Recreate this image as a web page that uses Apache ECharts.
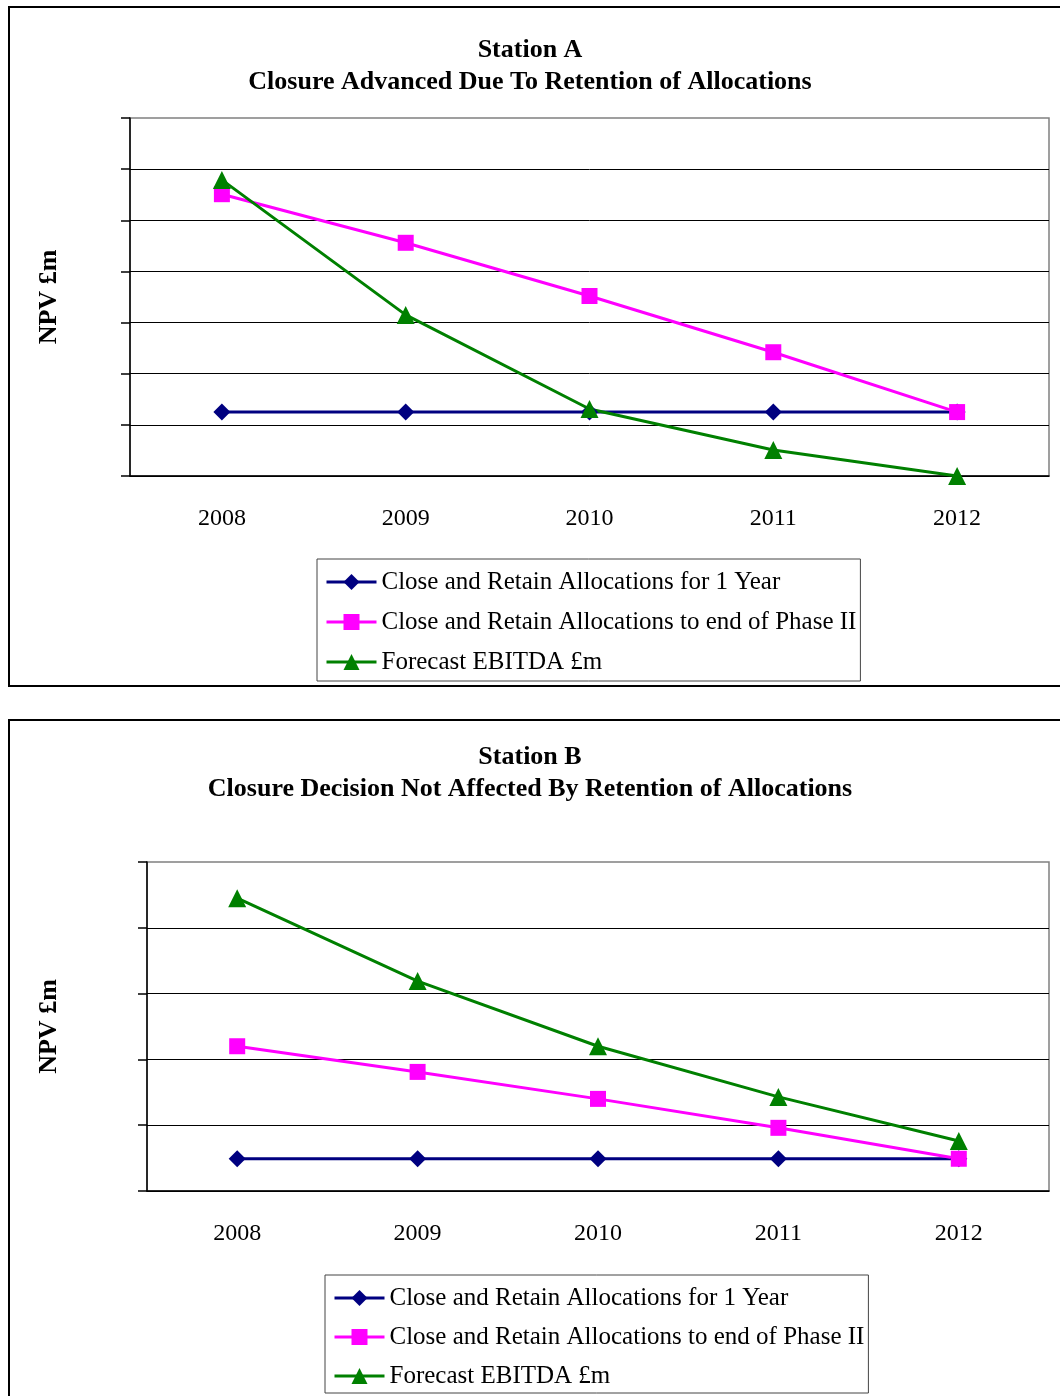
<!DOCTYPE html>
<html>
<head>
<meta charset="utf-8">
<script src="https://cdn.jsdelivr.net/npm/echarts@6/dist/echarts.min.js"></script>
<style>
  html, body { margin: 0; padding: 0; background: #fff; }
  body { width: 1060px; height: 1396px; position: relative; overflow: hidden; }
  .chart { position: absolute; left: 0; width: 1060px; }
  .frame { position: absolute; border: 2px solid #000; pointer-events: none; z-index: 5; }
</style>
</head>
<body>
<div id="chartA" class="chart" style="top:0;height:700px"></div>
<!-- taller than the page so the vertical legend never wraps; body clips it -->
<div id="chartB" class="chart" style="top:700px;height:760px"></div>
<!-- outer frames round each chart -->
<div class="frame" style="left:8px;top:6px;width:1080px;height:677px"></div>
<div class="frame" style="left:8px;top:719px;width:1080px;height:720px"></div>

<script>
const years = ['2008', '2009', '2010', '2011', '2012'];
const seriesNames = [
  'Close and Retain Allocations for 1 Year',
  'Close and Retain Allocations to end of Phase II',
  'Forecast EBITDA £m'
];

// Station A (gridline units, no values printed on the axis)
const stationAOneYear = [1.25, 1.25, 1.25, 1.25, 1.25];
const stationAPhaseII = [5.51, 4.56, 3.52, 2.42, 1.25];
const stationAEbitda = [5.79, 3.15, 1.31, 0.51, 0];

// Station B
const stationBOneYear = [0.49, 0.49, 0.49, 0.49, 0.49];
const stationBPhaseII = [2.20, 1.81, 1.40, 0.96, 0.49];
const stationBEbitda = [4.45, 3.19, 2.20, 1.43, 0.76];

const SERIF = '"Liberation Serif", "Times New Roman", serif';
const colors = ['#000080', '#FF00FF', '#008000'];
const symbols = [['diamond', 17], ['rect', 16], ['triangle', 18]];

function buildOption(cfg) {
  const data = [cfg.oneYear, cfg.phaseII, cfg.ebitda];
  return {
    animation: false,
    title: {
      text: cfg.title,
      left: 'center',
      top: cfg.titleTop,
      padding: 0,
      textStyle: { fontFamily: SERIF, fontSize: 26, fontWeight: 'bold', color: '#000', lineHeight: 32 }
    },
    legend: {
      data: seriesNames,
      orient: 'vertical',
      left: cfg.legendLeft,
      top: cfg.legendTop,
      padding: cfg.legendPadding,
      itemGap: cfg.legendGap,
      itemWidth: 50,
      itemHeight: 20,
      borderColor: '#444',
      borderWidth: 1,
      lineStyle: { width: 3 },
      textStyle: { fontFamily: SERIF, fontSize: 25, color: '#000', lineHeight: 26 }
    },
    grid: {
      left: cfg.grid.left, top: cfg.grid.top, width: cfg.grid.width, height: cfg.grid.height,
      show: true, borderColor: '#808080', borderWidth: 1.5
    },
    xAxis: {
      type: 'category',
      data: years,
      boundaryGap: true,
      axisLine: { lineStyle: { color: '#000', width: 1.5 } },
      axisTick: { length: 8, lineStyle: { color: '#000', width: 1.5 } },
      axisLabel: { fontFamily: SERIF, fontSize: 24, color: '#000', margin: 31 }
    },
    yAxis: {
      type: 'value',
      min: 0,
      max: cfg.yMax,
      interval: 1,
      name: 'NPV £m',
      nameLocation: 'middle',
      nameRotate: 90,
      nameGap: cfg.nameGap,
      nameTextStyle: { fontFamily: SERIF, fontSize: 26, fontWeight: 'bold', color: '#000' },
      axisLine: { show: true, lineStyle: { color: '#000', width: 1.5 } },
      axisTick: { show: true, length: 9, lineStyle: { color: '#000', width: 1.5 } },
      axisLabel: { show: false },
      splitLine: { show: true, showMaxLine: false, lineStyle: { color: '#000', width: 1 } }
    },
    series: seriesNames.map((name, i) => ({
      name,
      type: 'line',
      data: data[i],
      symbol: symbols[i][0],
      symbolSize: symbols[i][1],
      showAllSymbol: true,
      lineStyle: { color: colors[i], width: 3 },
      itemStyle: { color: colors[i] }
    }))
  };
}

const chartA = echarts.init(document.getElementById('chartA'));
chartA.setOption(buildOption({
  title: 'Station A\nClosure Advanced Due To Retention of Allocations',
  titleTop: 34,
  oneYear: stationAOneYear, phaseII: stationAPhaseII, ebitda: stationAEbitda,
  yMax: 7,
  nameGap: 68,
  grid: { left: 130, top: 118, width: 919, height: 358 },
  legendLeft: 317, legendTop: 559, legendPadding: [10, 4, 6, 8], legendGap: 14
}));

const chartB = echarts.init(document.getElementById('chartB'));
chartB.setOption(buildOption({
  title: 'Station B\nClosure Decision Not Affected By Retention of Allocations',
  titleTop: 41,
  oneYear: stationBOneYear, phaseII: stationBPhaseII, ebitda: stationBEbitda,
  yMax: 5,
  nameGap: 85,
  grid: { left: 147, top: 162, width: 902, height: 329 },
  legendLeft: 325, legendTop: 575, legendPadding: [10, 4, 4, 8], legendGap: 13
}));
</script>
</body>
</html>
